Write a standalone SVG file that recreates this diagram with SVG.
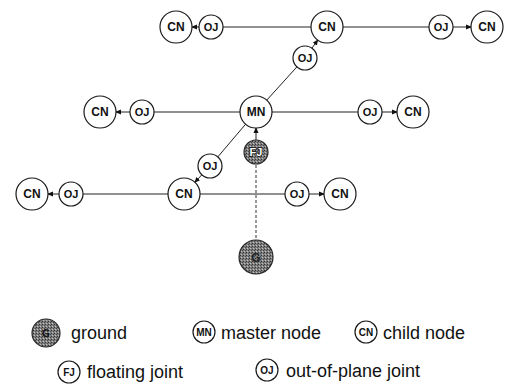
<svg xmlns="http://www.w3.org/2000/svg" width="506" height="384" viewBox="0 0 506 384">
<defs>
<pattern id="stip" width="3" height="3" patternUnits="userSpaceOnUse">
<rect width="3" height="3" fill="#808080"/>
<rect width="1" height="1" fill="#333"/>
<rect x="2" y="1" width="1" height="1" fill="#4a4a4a"/>
<rect x="1" y="2" width="1" height="1" fill="#c0c0c0"/>
</pattern>
<marker id="ah" markerWidth="6" markerHeight="6" refX="5" refY="3" orient="auto" markerUnits="userSpaceOnUse">
<path d="M0,0.5 L6,3 L0,5.5 Z" fill="#111"/>
</marker>
</defs>
<style>
.n{fill:#fff;stroke:#1a1a1a;stroke-width:1.2}
.s{fill:url(#stip);stroke:#2a2a2a;stroke-width:1.2}
.t{font-family:"Liberation Sans",Arial,sans-serif;font-weight:bold;fill:#111;text-anchor:middle;dominant-baseline:central}
.big{font-size:12px}
.sm{font-size:11px}
.lg{font-size:10px}
.lt{font-family:"Liberation Sans",Arial,sans-serif;font-size:18px;fill:#111}
.c{stroke:#222;stroke-width:1;fill:none}
.a{stroke:#222;stroke-width:1;fill:none;marker-end:url(#ah)}
.d{stroke:#333;stroke-width:1;fill:none;stroke-dasharray:3 2}
.w{fill:#fff;stroke:#111;stroke-width:1.6;paint-order:stroke}
</style>
<rect width="506" height="384" fill="#fff"/>
<g id="connectors">
<line class="a" x1="199" y1="27" x2="192" y2="27"/>
<line class="c" x1="223" y1="27" x2="311" y2="27"/>
<line class="c" x1="343" y1="27" x2="429" y2="27"/>
<line class="a" x1="453" y1="27" x2="471" y2="27"/>
<line class="c" x1="266.8" y1="100.1" x2="296.9" y2="66.9"/>
<line class="a" x1="311.9" y1="48.2" x2="317.7" y2="40.1"/>
<line class="a" x1="130" y1="112" x2="116" y2="112"/>
<line class="c" x1="154" y1="112" x2="240" y2="112"/>
<line class="c" x1="272" y1="112" x2="358" y2="112"/>
<line class="a" x1="382" y1="112" x2="397" y2="112"/>
<line class="a" x1="256" y1="140" x2="256" y2="128"/>
<line class="c" x1="245.6" y1="124.2" x2="217.8" y2="156.9"/>
<line class="a" x1="201.8" y1="174.8" x2="194.9" y2="182.3"/>
<line class="a" x1="59" y1="194" x2="48" y2="194"/>
<line class="c" x1="83" y1="194" x2="168" y2="194"/>
<line class="c" x1="200" y1="194" x2="285" y2="194"/>
<line class="a" x1="309" y1="194" x2="324" y2="194"/>
<line class="d" x1="256" y1="165" x2="256" y2="239"/>
</g>
<g id="cn1"><circle class="n" cx="176" cy="27" r="16"/><text class="t big" x="176" y="27">CN</text></g>
<g id="oj1"><circle class="n" cx="211" cy="27" r="12"/><text class="t sm" x="211" y="27">OJ</text></g>
<g id="cn2"><circle class="n" cx="327" cy="27" r="16"/><text class="t big" x="327" y="27">CN</text></g>
<g id="oj2"><circle class="n" cx="441" cy="27" r="12"/><text class="t sm" x="441" y="27">OJ</text></g>
<g id="cn3"><circle class="n" cx="487" cy="27" r="16"/><text class="t big" x="487" y="27">CN</text></g>
<g id="oj3"><circle class="n" cx="305" cy="58" r="12"/><text class="t sm" x="305" y="58">OJ</text></g>
<g id="cn4"><circle class="n" cx="100" cy="112" r="16"/><text class="t big" x="100" y="112">CN</text></g>
<g id="oj4"><circle class="n" cx="142" cy="112" r="12"/><text class="t sm" x="142" y="112">OJ</text></g>
<g id="mn"><circle class="n" cx="256" cy="112" r="16"/><text class="t big" x="256" y="112">MN</text></g>
<g id="oj5"><circle class="n" cx="370" cy="112" r="12"/><text class="t sm" x="370" y="112">OJ</text></g>
<g id="cn5"><circle class="n" cx="413" cy="112" r="16"/><text class="t big" x="413" y="112">CN</text></g>
<g id="fj"><circle class="s" cx="256" cy="152" r="12"/><text class="t sm w" x="256" y="152">FJ</text></g>
<g id="oj6"><circle class="n" cx="210" cy="166" r="12"/><text class="t sm" x="210" y="166">OJ</text></g>
<g id="cn6"><circle class="n" cx="32" cy="194" r="16"/><text class="t big" x="32" y="194">CN</text></g>
<g id="oj7"><circle class="n" cx="71" cy="194" r="12"/><text class="t sm" x="71" y="194">OJ</text></g>
<g id="cn7"><circle class="n" cx="184" cy="194" r="16"/><text class="t big" x="184" y="194">CN</text></g>
<g id="oj8"><circle class="n" cx="297" cy="194" r="12"/><text class="t sm" x="297" y="194">OJ</text></g>
<g id="cn8"><circle class="n" cx="340" cy="194" r="16"/><text class="t big" x="340" y="194">CN</text></g>
<g id="g"><circle class="s" cx="256" cy="257" r="17"/><text class="t big" x="256" y="258" style="fill:#222">G</text></g>
<g id="legend">
<circle class="s" cx="46" cy="333" r="14"/><text class="t lg" x="46" y="333" style="fill:#111">G</text>
<text class="lt" x="71" y="339">ground</text>
<circle class="n" cx="204" cy="332" r="11"/><text class="t lg" x="204" y="332">MN</text>
<text class="lt" x="221" y="339">master node</text>
<circle class="n" cx="366" cy="332" r="11"/><text class="t lg" x="366" y="332">CN</text>
<text class="lt" x="383" y="339">child node</text>
<circle class="n" cx="69" cy="372" r="11"/><text class="t lg" x="69" y="372">FJ</text>
<text class="lt" x="87" y="378">floating joint</text>
<circle class="n" cx="267" cy="370" r="11"/><text class="t lg" x="267" y="370">OJ</text>
<text class="lt" x="286" y="377">out-of-plane joint</text>
</g>
</svg>
